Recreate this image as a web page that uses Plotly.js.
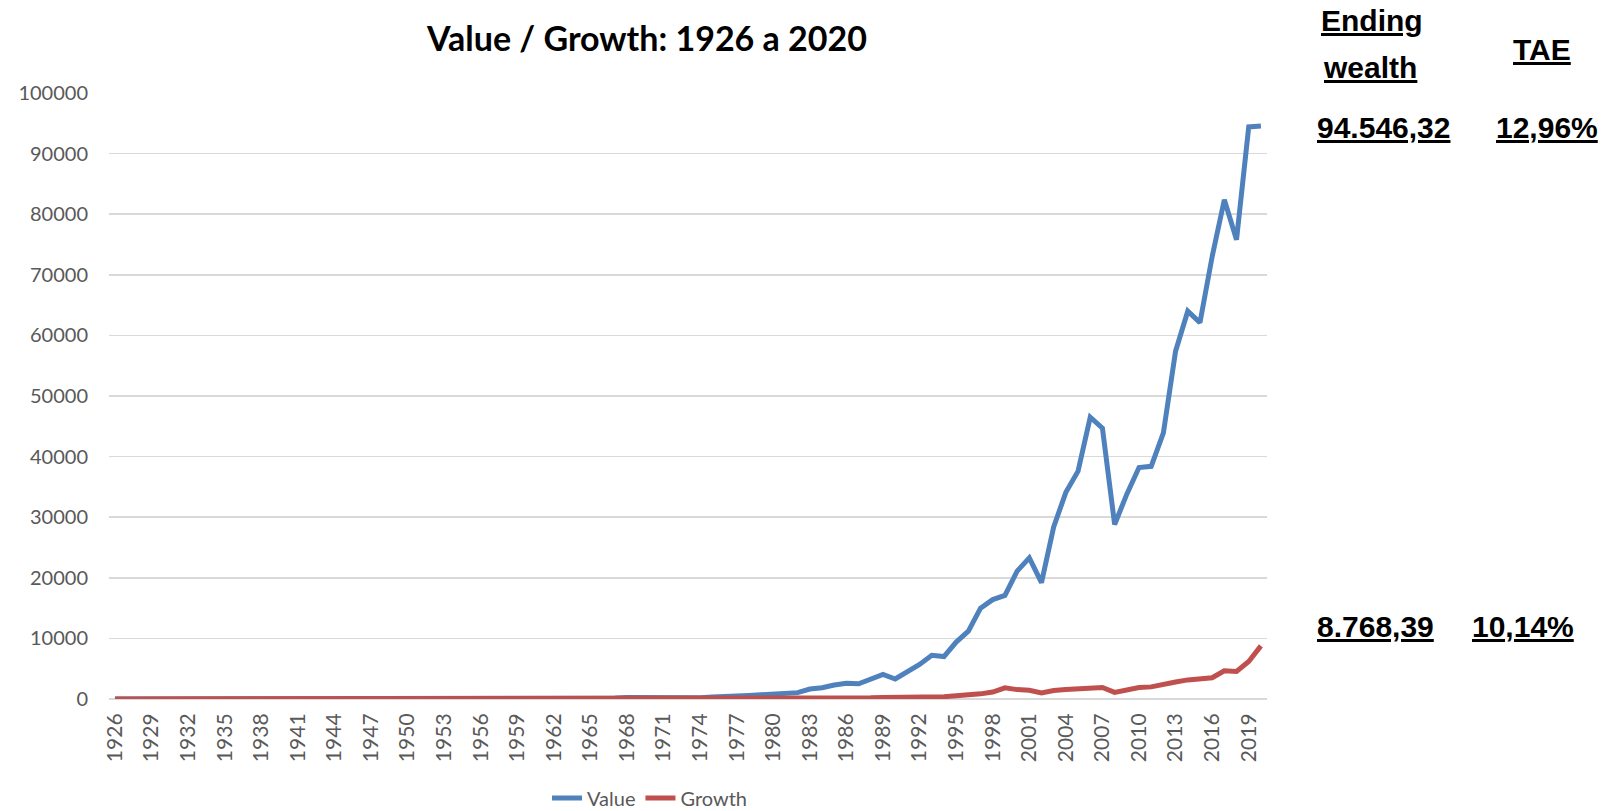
<!DOCTYPE html>
<html>
<head>
<meta charset="utf-8">
<script src="https://cdn.plot.ly/plotly-3.0.1.min.js"></script>
<style>html,body{margin:0;padding:0;background:#fff;}#chart{width:1605px;height:811px;}</style>
</head>
<body>
<div id="chart"></div>
<script>
const years = [
  1926,1927,1928,1929,1930,1931,1932,1933,1934,1935,1936,1937,1938,1939,1940,1941,1942,1943,1944,1945,
  1946,1947,1948,1949,1950,1951,1952,1953,1954,1955,1956,1957,1958,1959,1960,1961,1962,1963,1964,1965,
  1966,1967,1968,1969,1970,1971,1972,1973,1974,1975,1976,1977,1978,1979,1980,1981,1982,1983,1984,1985,
  1986,1987,1988,1989,1990,1991,1992,1993,1994,1995,1996,1997,1998,1999,2000,2001,2002,2003,2004,2005,
  2006,2007,2008,2009,2010,2011,2012,2013,2014,2015,2016,2017,2018,2019,2020
];
const valueSeries = [
  1,1.4,1.7,1.3,0.8,0.35,0.35,0.85,0.8,1.2,1.9,0.9,1.2,1.1,1.0,1.1,1.6,2.9,4.0,6.5,
  6.0,6.5,6.6,8.2,12.5,14.5,17,16.5,27,33,35,30,47,55,55,72,68,88,108,135,
  125,175,230,195,210,240,265,230,200,330,480,540,590,700,800,880,1050,1650,1850,2300,
  2600,2500,3200,4050,3300,4500,5700,7200,7000,9400,11200,15000,16400,17100,21100,23300,19200,28400,34100,37600,
  46500,44700,28800,33800,38200,38400,43900,57400,64000,62100,73000,82400,75800,94400,94546.32
];
const growthSeries = [
  1,1.35,1.9,1.6,1.2,0.7,0.6,0.9,0.9,1.35,1.7,1.1,1.45,1.45,1.3,1.15,1.35,1.65,1.95,2.6,
  2.4,2.5,2.6,3.1,3.8,4.6,5.3,5.3,8.0,10.5,11.3,10.3,14.5,16.5,16.8,21,19,23,26.5,30,
  27,33,36,33,33,39,46,38,27,36,43,40,43,50,68,64,78,95,100,130,
  155,165,190,250,245,330,350,370,380,520,640,850,1150,1850,1550,1450,1000,1400,1550,1650,
  1750,1900,1100,1600,1900,2000,2300,2800,3150,3350,3500,4650,4550,6200,8768.39
];
const seriesNames = ["Value", "Growth"];
const titleText = "Value / Growth: 1926 a 2020";
const headerLabels = ["Ending", "wealth", "TAE"];
const endingWealth = ["94.546,32", "8.768,39"];
const tae = ["12,96%", "10,14%"];

// layout geometry (pixels)
const L = 109, R = 1267, T = 93, B = 699;
const px = (x) => (x - L) / (R - L);
const py = (y) => (B - y) / (B - T);

const tickColor = "#595959";
const traces = [
  {x: years, y: valueSeries, name: seriesNames[0], type: "scatter", mode: "lines",
   line: {color: "#4F81BD", width: 5}},
  {x: years, y: growthSeries, name: seriesNames[1], type: "scatter", mode: "lines",
   line: {color: "#C0504D", width: 5}}
];

const annFont = {family: "Liberation Sans, Arial, sans-serif", size: 30, color: "#000", weight: 700, lineposition: "under"};
function ann(text, x, y) {
  return {text: "<b>" + text + "</b>", xref: "paper", yref: "paper", x: px(x), y: py(y),
          xanchor: "center", yanchor: "middle", showarrow: false, font: annFont};
}
const annotations = [
  ann(headerLabels[0], 1372, 20),
  ann(headerLabels[1], 1370, 68),
  ann(headerLabels[2], 1542, 49),
  ann(endingWealth[0], 1383, 127),
  ann(tae[0], 1547, 127),
  ann(endingWealth[1], 1375, 626),
  ann(tae[1], 1523, 626)
];

const layout = {
  width: 1605, height: 811,
  margin: {l: L, r: 1605 - R, t: T, b: 811 - B, pad: 0, autoexpand: false},
  paper_bgcolor: "#fff", plot_bgcolor: "#fff",
  showlegend: true,
  hovermode: false,
  title: {text: "<b>" + titleText + "</b>", xref: "container", yref: "container",
          x: 647 / 1605, y: 1 - 39 / 811, xanchor: "center", yanchor: "middle",
          font: {family: "Lato, sans-serif", size: 34, color: "#000"}},
  xaxis: {
    type: "linear", range: [1925.5, 2020.5], tick0: 1926, dtick: 3,
    tickangle: -90, showgrid: false, zeroline: false, showline: false,
    ticks: "outside", ticklen: 5, tickcolor: "rgba(0,0,0,0)", automargin: false,
    tickfont: {family: "Lato, sans-serif", size: 21, color: tickColor},
    fixedrange: true
  },
  yaxis: {
    range: [0, 100000], dtick: 10000, tickformat: "d",
    showgrid: true, gridcolor: "#D9D9D9", gridwidth: 1.5,
    zeroline: true, zerolinecolor: "#D9D9D9", zerolinewidth: 1.5,
    showline: false, ticks: "", ticklabelstandoff: 20, automargin: false,
    tickfont: {family: "Lato, sans-serif", size: 20, color: tickColor},
    fixedrange: true
  },
  legend: {orientation: "h", x: px(650), y: py(798), xanchor: "center", yanchor: "middle",
           font: {family: "Lato, sans-serif", size: 20, color: tickColor},
           tracegroupgap: 0, borderwidth: 0},
  annotations: annotations
};

Plotly.newPlot("chart", traces, layout, {displayModeBar: false, staticPlot: true});
</script>
</body>
</html>
